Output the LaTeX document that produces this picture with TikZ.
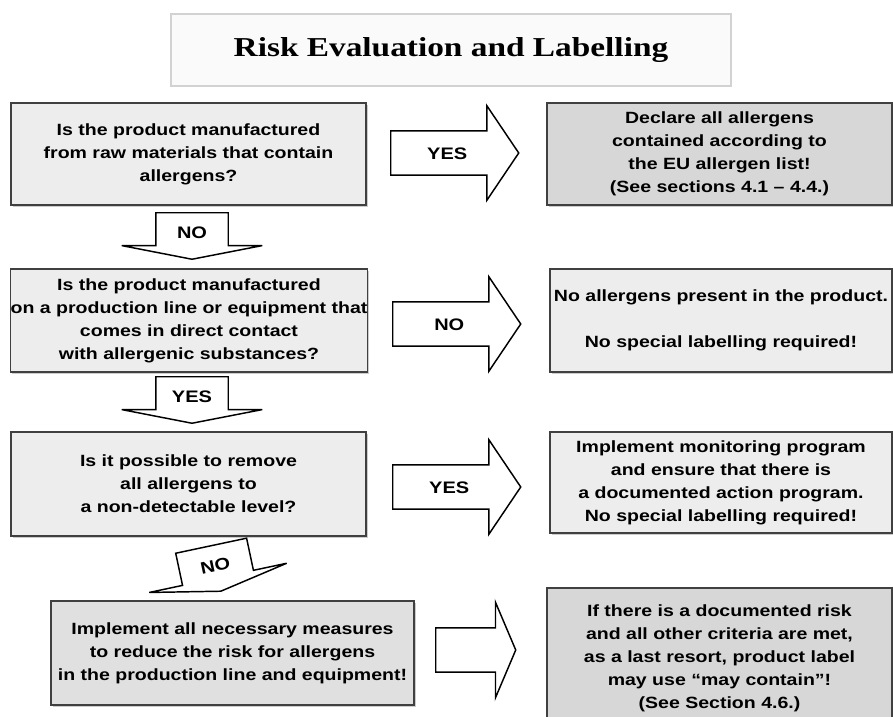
\documentclass[tikz,border=0pt]{standalone}
\usepackage{fontspec}
\setmainfont{Liberation Sans}[FakeStretch=1.2]
\newfontfamily\titlefont{Liberation Serif}[FakeStretch=1.22]
\usetikzlibrary{shapes.arrows,shadows}

\begin{document}
\begin{tikzpicture}[x=0.75pt, y=-0.75pt,
    box/.style={draw=black!75, line width=1.1pt, align=center, inner sep=0pt,
        font=\fontsize{12.2}{17.2}\selectfont\bfseries,
        general shadow={fill=gray!40, shadow xshift=1.2pt, shadow yshift=-1.2pt}},
    query/.style={box, fill=gray!14},
    outcome/.style={box, fill=gray!31},
    flow/.style={single arrow, draw=black, line width=1.1pt, fill=white, inner sep=0pt,
        font=\fontsize{12.5}{14}\selectfont\bfseries, anchor=tail,
        text height=9pt, text depth=0pt},
    rightflow/.style={flow, inner ysep=11.6pt,
        minimum height=96pt, minimum width=69.75pt,
        single arrow head extend=18.75pt, single arrow tip angle=112},
    downflow/.style={flow, shape border rotate=270, text width=53.25pt, align=center,
        inner ysep=9.75pt, single arrow head extend=25.5pt, single arrow tip angle=158}]

    \useasboundingbox (0,0) rectangle (893,717);

    % heading
    \node (title) at (451,50) [draw=gray!35, fill=gray!4, line width=0.8pt,
        minimum width=420pt, minimum height=54pt,
        font=\titlefont\bfseries\fontsize{20.5}{24}\selectfont] {Risk Evaluation and Labelling};

    % questions on the left
    \node (q1) at (188.5,154) [query, minimum width=266.25pt, minimum height=76.5pt]
        {Is the product manufactured\\from raw materials that contain\\allergens?};
    \node (q2) at (189,320.5) [query, minimum width=265.5pt, minimum height=77.25pt]
        {Is the product manufactured\\on a production line or equipment that\\comes in direct contact\\with allergenic substances?};
    \node (q3) at (188.5,484) [query, minimum width=266.25pt, minimum height=78pt]
        {Is it possible to remove\\all allergens to\\a non-detectable level?};
    \node (q4) at (232.5,653) [query, fill=gray!24, minimum width=272.25pt, minimum height=78pt]
        {Implement all necessary measures\\to reduce the risk for allergens\\in the production line and equipment!};

    % outcomes on the right
    \node (r1) at (719.5,154) [outcome, minimum width=258.75pt, minimum height=76.5pt]
        {Declare all allergens\\contained according to\\the EU allergen list!\\(See sections 4.1 -- 4.4.)};
    \node (r2) at (721,320.5) [query, minimum width=256.5pt, minimum height=77.25pt]
        {No allergens present in the product.\\[17.2pt]No special labelling required!};
    \node (r3) at (721,482.5) [query, minimum width=256.5pt, minimum height=75.75pt]
        {Implement monitoring program\\and ensure that there is\\a documented action program.\\No special labelling required!};
    \node (r4) at (719.5,658) [outcome, minimum width=258.75pt, minimum height=105pt]
        {If there is a documented risk\\and all other criteria are met,\\as a last resort, product label\\may use “may contain”!\\(See Section 4.6.)};

    % block arrows
    \node (y1) at (390,153) [rightflow] {YES};
    \node (n2) at (392,324) [rightflow] {NO};
    \node (y3) at (392,487) [rightflow] {YES};
    \node (go) at (435,650) [rightflow, minimum height=60pt, minimum width=71.25pt,
        single arrow head extend=19.1pt, single arrow tip angle=134] {};

    \node (n1) at (192,212) [downflow] {NO};
    \node (y2) at (192,376) [downflow] {YES};
    \node (n3) at (211,545) [downflow, rotate=12] {NO};

\end{tikzpicture}
\end{document}
